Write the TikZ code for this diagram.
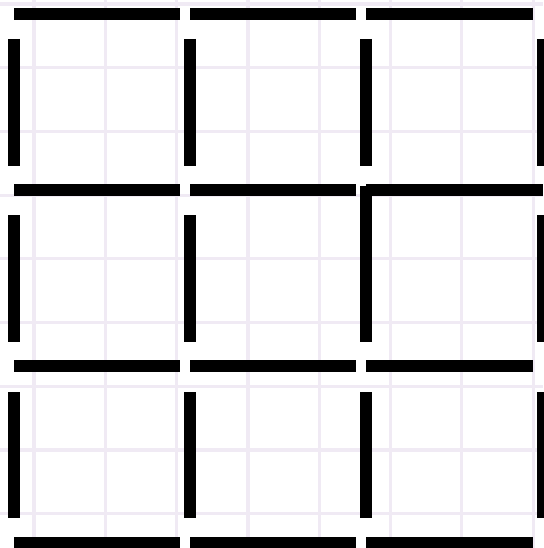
\documentclass[tikz,border=0pt]{standalone}
\usepackage{tikz}

\begin{document}
\begin{tikzpicture}[x=1pt,y=-1pt,
  paper/.style={draw={rgb,255:red,240;green,234;blue,244},line width=3.2pt},
  stick/.style={draw={rgb,255:red,0;green,0;blue,0},line width=11.6pt,line cap=butt}]
% 543 x 548, squared paper with nine matchstick squares
\useasboundingbox[fill=white] (0,0) rectangle (543,548);
% faint paper grid
\foreach \gx in {34,105.3,176.6,247.9,319.2,390.5,461.8,533.1}
  \path[paper] (\gx,0) -- (\gx,548);
\foreach \gy in {4,67.7,131.4,195.1,258.8,322.5,386.2,449.9,513.6}
  \path[paper] (0,\gy) -- (543,\gy);
% horizontal sticks
\path[stick] (14,14) -- ++(166,0);
\path[stick] (190,14) -- ++(166,0);
\path[stick] (366,14) -- ++(167,0);
\path[stick] (14,190) -- ++(166,0);
\path[stick] (190,190) -- ++(166,0);
\path[stick] (366,190) -- (543,190);
\path[stick] (14,366) -- ++(166,0);
\path[stick] (190,366) -- ++(166,0);
\path[stick] (366,366) -- ++(167,0);
\path[stick] (14,542.5) -- ++(166,0);
\path[stick] (190,542.5) -- ++(166,0);
\path[stick] (366,542.5) -- ++(167,0);
% vertical sticks
\path[stick] (14,39) -- ++(0,127);
\path[stick] (190,39) -- ++(0,127);
\path[stick] (366,39) -- ++(0,127);
\path[stick] (542.8,39) -- ++(0,127);
\path[stick] (14,215) -- ++(0,127);
\path[stick] (190,215) -- ++(0,127);
\path[stick] (366,186) -- (366,342);
\path[stick] (542.8,215) -- ++(0,127);
\path[stick] (14,392) -- ++(0,126);
\path[stick] (190,392) -- ++(0,126);
\path[stick] (366,392) -- ++(0,126);
\path[stick] (542.8,392) -- ++(0,126);
\end{tikzpicture}
\end{document}
